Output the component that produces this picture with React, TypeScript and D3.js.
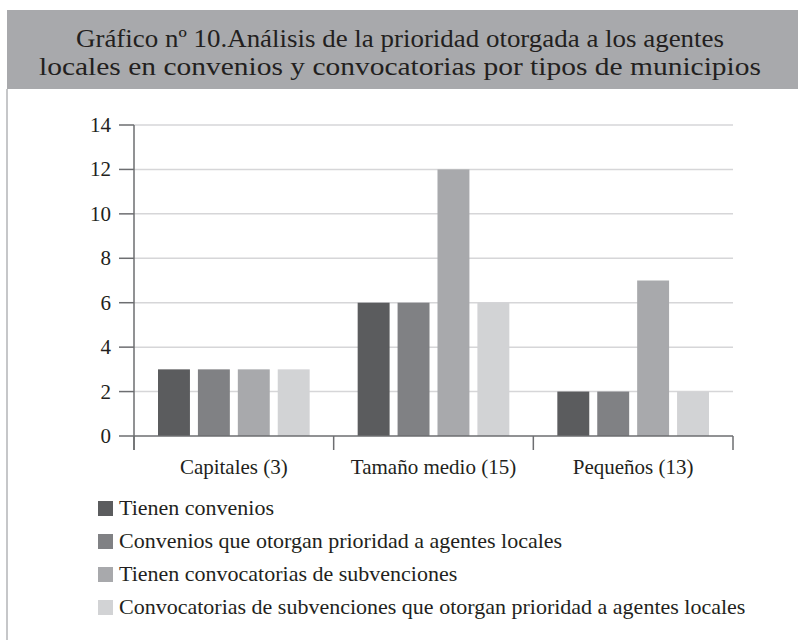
import React from 'react';
import * as d3 from 'd3';

const categories = ['Capitales (3)', 'Tamaño medio (15)', 'Pequeños (13)'];
const seriesNames = [
  'Tienen convenios',
  'Convenios que otorgan prioridad a agentes locales',
  'Tienen convocatorias de subvenciones',
  'Convocatorias de subvenciones que otorgan prioridad a agentes locales',
];
// values per series, one per category
const tienenConvenios = [3, 6, 2];
const conveniosPrioridad = [3, 6, 2];
const tienenConvocatorias = [3, 12, 7];
const convocatoriasPrioridad = [3, 6, 2];
const yTicks = [0, 2, 4, 6, 8, 10, 12, 14];
const titleLines = [
  'Gráfico nº 10.Análisis de la prioridad otorgada a los agentes',
  'locales en convenios y convocatorias por tipos de municipios',
];

const colors = ['#5b5c5e', '#808184', '#a8a9ac', '#d2d3d5'];
const FONT = '"Liberation Serif", "Times New Roman", serif';

export default function App() {
  const width = 798;
  const height = 640;
  const series = [tienenConvenios, conveniosPrioridad, tienenConvocatorias, convocatoriasPrioridad];

  const x0 = d3.scaleBand<string>().domain(categories).range([134, 733]).padding(0);
  const x1 = d3
    .scaleBand<number>()
    .domain(d3.range(series.length))
    .range([24, x0.bandwidth() - 24])
    .paddingInner(0.2)
    .paddingOuter(0);
  const y = d3.scaleLinear().domain([0, 14]).range([436, 125]);

  const xLeft = x0.range()[0];
  const xRight = x0.range()[1];
  const sepTicks = categories.map((c) => x0(c) as number).concat([xRight]);

  return (
    <div style={{ position: 'absolute', left: 0, top: 0 }}>
      <svg width={width} height={height} style={{ display: 'block', background: '#fff' }}>
        {/* frame */}
        <rect x={7} y={10} width={width - 7} height={79} fill="#a8a9ac" />
        <line x1={7} x2={7} y1={89} y2={height} stroke="#c6c7c9" strokeWidth={2} />
        {titleLines.map((t, i) => (
          <text
            key={i}
            x={400}
            y={47 + i * 28}
            textAnchor="middle"
            fontFamily={FONT}
            fontSize={25}
            fill="#231f20"
            textLength={i === 0 ? 648 : 722}
            lengthAdjust="spacingAndGlyphs"
          >
            {t}
          </text>
        ))}

        {/* grid + y axis */}
        {yTicks.map((t) => (
          <g key={t}>
            {t > 0 && (
              <line x1={xLeft} x2={xRight} y1={y(t)} y2={y(t)} stroke="#d6d6d8" strokeWidth={1.5} />
            )}
            <line x1={xLeft - 15} x2={xLeft} y1={y(t)} y2={y(t)} stroke="#6d6e71" strokeWidth={1.5} />
            <text
              x={xLeft - 23}
              y={y(t)}
              dy="0.33em"
              textAnchor="end"
              fontFamily={FONT}
              fontSize={21}
              fill="#231f20"
            >
              {t}
            </text>
          </g>
        ))}

        {/* bars */}
        {categories.map((c, ci) => (
          <g key={c} transform={`translate(${x0(c)},0)`}>
            {series.map((s, si) => (
              <rect
                key={si}
                x={x1(si)}
                y={y(s[ci])}
                width={x1.bandwidth()}
                height={y(0) - y(s[ci])}
                fill={colors[si]}
              />
            ))}
          </g>
        ))}

        <line x1={xLeft} x2={xLeft} y1={y(14)} y2={y(0) + 14} stroke="#6d6e71" strokeWidth={1.5} />
        <line x1={xLeft} x2={xRight} y1={y(0)} y2={y(0)} stroke="#6d6e71" strokeWidth={1.5} />
        {sepTicks.map((sx, i) => (
          <line key={i} x1={sx} x2={sx} y1={y(0)} y2={y(0) + 14} stroke="#6d6e71" strokeWidth={1.5} />
        ))}
        {categories.map((c) => (
          <text
            key={c}
            x={(x0(c) as number) + x0.bandwidth() / 2}
            y={474}
            textAnchor="middle"
            fontFamily={FONT}
            fontSize={21}
            fill="#231f20"
          >
            {c}
          </text>
        ))}

        {/* legend */}
        {seriesNames.map((n, i) => (
          <g key={n} transform={`translate(98,${501 + i * 33})`}>
            <rect x={0} y={0} width={15} height={15} fill={colors[i]} />
            <text x={21} y={14} fontFamily={FONT} fontSize={22} fill="#231f20">
              {n}
            </text>
          </g>
        ))}
      </svg>
    </div>
  );
}
